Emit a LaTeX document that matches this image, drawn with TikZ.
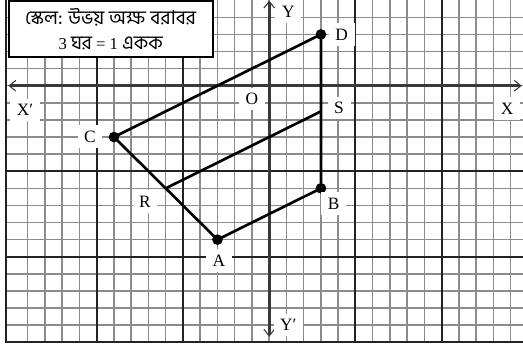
\documentclass[tikz,border=0pt]{standalone}
\usepackage{fontspec}
\setmainfont{Liberation Serif}
\newfontfamily\bnfont[Script=Bengali]{Hind Siliguri}
\newcommand\bntext[1]{{\fontsize{14.5}{18.75}\selectfont\bnfont #1}}
\usetikzlibrary{arrows.meta,calc}
\definecolor{gridthin}{HTML}{8C8C8C}
\definecolor{gridthick}{HTML}{222222}
\definecolor{axisline}{HTML}{3A3A3A}

\begin{document}
\begin{tikzpicture}[x=12.94pt,y=12.83pt,
 lbl/.style={fill=white,inner xsep=5pt,inner ysep=4pt,text height=8.9pt,text depth=0pt,font=\fontsize{13}{15}\selectfont},
 figline/.style={line width=2pt,line cap=round,line join=round},
 axisarrow/.style={axisline,line width=2.2pt,arrows={Straight Barb[length=5pt,width=8pt,line width=.8pt]-Straight Barb[length=5pt,width=8pt,line width=.8pt]}}]
\useasboundingbox (-15.606,-15.164) rectangle (14.713,5.012);
\begin{scope}
 \clip (-15.606,-15.164) rectangle (14.713,5.012);
 \foreach \gx in {-14,...,14}
  \draw[gridthin,line width=1.1pt] (\gx,-15) -- (\gx,5.1);
 \foreach \gy in {-14,...,4}
  \draw[gridthin,line width=1.1pt] (-15.24,\gy) -- (14.8,\gy);
 \foreach \gx in {-10,-5,5,10}
  \draw[gridthick,line width=1.5pt] (\gx,-15) -- (\gx,5.1);
 \foreach \gy in {-5,-10}
  \draw[gridthick,line width=1.5pt] (-15.24,\gy) -- (14.8,\gy);
 \draw[gridthick,line width=1.6pt] (-15.24,5.1) -- (-15.24,-15) -- (14.8,-15);
\end{scope}
\coordinate (xminus) at (-15.12,0);
\coordinate (xplus) at (14.64,0);
\coordinate (yplus) at (0,4.98);
\coordinate (yminus) at (0,-14.68);
\draw[axisarrow] (xminus) -- (xplus);
\draw[axisarrow] (yminus) -- (yplus);
\coordinate (A) at (-3,-9);
\coordinate (B) at (3,-6);
\coordinate (C) at (-9,-3);
\coordinate (D) at (3,3);
\coordinate (R) at ($(A)!.5!(C)$);
\coordinate (S) at ($(B)!.5!(D)$);
\draw[figline] (C) -- (D) -- (B) -- (A) -- (C);
\draw[figline] (R) -- (S);
\foreach \p in {A,B,C,D}
 \fill (\p) circle (4pt);
\node[lbl] (labD) at (4.2,3) {D};
\node[lbl] (labS) at (4.05,-1.3) {S};
\node[lbl] (labB) at (3.74,-6.88) {B};
\node[lbl] (labA) at (-2.91,-10.23) {A};
\node[lbl] (labR) at (-7.2,-6.78) {R};
\node[lbl] (labC) at (-10.39,-2.98) {C};
\node[lbl] (labO) at (-1.01,-.78) {O};
\node[lbl] (labXm) at (-14.16,-1.42) {X′};
\node[lbl] (labXp) at (13.8,-1.32) {X};
\node[lbl] (labYp) at (1.11,4.33) {Y};
\node[lbl] (labYm) at (1.11,-13.99) {Y′};
\node[draw=black,line width=1.5pt,fill=white,minimum width=153pt,minimum height=42pt,align=center,
 font=\fontsize{12.5}{18.75}\selectfont] (scalebox) at (-9.19,3.32)
 {\bntext{স্কেল: উভয় অক্ষ বরাবর}\\3 \bntext{ঘর} = 1 \bntext{একক}};
\end{tikzpicture}
\end{document}
